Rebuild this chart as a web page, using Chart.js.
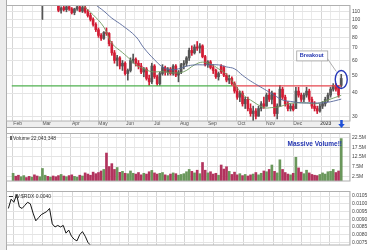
<!DOCTYPE html>
<html><head><meta charset="utf-8">
<script src="https://cdn.jsdelivr.net/npm/chart.js@4"></script>
<style>
html,body{margin:0;padding:0;background:#fff;width:370px;height:250px;overflow:hidden;}
canvas{position:absolute;left:0;}
#edge{position:absolute;left:0;top:0;width:7px;height:250px;background:#ececec;border-right:1px solid #a9a9a9;box-sizing:border-box;}
</style></head><body>
<div id="edge"></div>
<canvas id="c1" style="top:0" width="370" height="128"></canvas>
<canvas id="c2" style="top:128px" width="370" height="58"></canvas>
<canvas id="c3" style="top:186px" width="370" height="64"></canvas>
<script>
// ---- data (bar index = 2 trading days, late Jan 2022 -> mid Jan 2023) ----
const monthLabels = ['Feb','Mar','Apr','May','Jun','Jul','Aug','Sep','Oct','Nov','Dec','2023'];
const monthTicks  = [1.7,12.6,23.5,33.7,43.8,54,64.2,74.7,85.6,96.5,106.7,117.2];

const opens = [128,130,128,126,129,133,130,127,129,126,124,121,123,126,124,125,122,
 119,112,116,113,117,114,109,114,117,111,116,
 110,105,100,94,88,82,79,85,
 84,74,66,60,62,56,58,51,
 53,60,61,58,56,52,54,48,
 46,56,49,45,51,55,52,54,
 51,56,50,52,
 57,58,62,68,66,71,70,
 72,63,57,59,55,53,49,
 56,55,50,47,48,
 45,41,38,40,35,37,33,31,32,
 30,33,35,34,39,37,40,31,
 34,42,38,35,33,34,
 33,41,39,37,39,41,37,34,
 33,32,34,35,37,39,42,44,43,44];
const highs = [132,134,131,130,135,136,133,131,132,129,127,126,128,130,127,128,124,
 121,117,119,118,121,116,115,120,119,118,118,
 113,108,102,96,90,84,86,90,
 85,76,68,64,63,60,59,54,
 62,65,62,60,58,55,55,50,
 58,57,50,52,57,56,55,55,
 57,57,53,58,
 60,63,70,72,73,76,74,
 73,64,60,60,57,54,52,
 57,56,51,50,49,
 46,43,41,41,38,38,35,34,33,
 34,36,38,40,42,41,40,35,
 44,43,39,36,35,35,
 43,43,40,40,43,42,38,36,
 34,35,36,38,40,43,45,45,44,50.5];
const lows = [125,127,124,123,127,129,126,124,125,122,121,100,121,123,121,121,119,
 110,108,111,110,112,107,106,112,110,109,108,
 103,98,92,86,80,77,78,82,
 72,64,58,56,54,53,50,47,
 52,58,56,54,51,49,47,44,
 45,48,44,44,50,50,50,50,
 50,49,46,51,
 54,56,60,64,65,68,66,
 62,56,55,54,51,48,47,
 51,49,46,45,44,
 40,37,36,34,33,32,30,28,29,
 30,32,33,34,36,35,30,29,
 34,37,34,32,32,32,
 33,38,36,36,38,36,33,32,
 31,31.5,33,34,36,38,41,41,38,43];
const closes = [130,128,126,129,133,130,127,129,126,124,125,123,126,124,125,122,120,
 112,115,113,117,114,109,114,117,111,116,110,
 105,100,94,88,82,79,85,84,
 74,66,60,62,56,58,51,53,
 60,61,58,56,52,54,48,46,
 56,49,45,51,55,52,54,51,
 56,50,52,57,
 58,62,68,66,71,70,72,
 63,57,59,55,53,49,51,
 52,50,47,48,45,
 41,38,40,35,37,33,31,32,30,
 33,35,34,39,37,40,31,34,
 42,38,35,33,34,32.5,
 41,39,37,39,41,37,34,33,
 32,34,35,37,39,42,44,42,39,48];
// volume in millions
const volumes = [4.0,2.5,3.0,2.2,2.8,1.8,2.4,2.0,3.2,2.6,2.2,
 6.5,
 3.0,2.4,2.0,2.6,2.2,2.8,3.4,2.6,2.2,
 2.8,3.2,2.4,2.0,3.0,2.6,4.2,3.6,3.0,4.6,3.8,4.4,5.2,
 6.0,14.5,7.5,9.0,6.0,7.0,4.5,5.0,4.0,3.8,5.2,4.0,3.6,4.4,3.2,4.0,3.6,4.8,5.5,4.2,3.6,4.0,4.4,3.2,2.8,3.6,4.2,3.8,3.0,3.4,
 3.8,4.8,6.0,5.0,4.2,5.6,3.8,9.6,5.6,4.2,4.8,3.6,4.0,3.0,8.3,6.2,7.4,5.0,3.4,4.6,
 3.2,3.8,2.8,3.4,2.6,3.2,3.6,4.4,3.2,4.0,5.2,4.8,6.0,8.3,5.0,4.2,11.0,6.0,4.4,3.6,
 3.2,4.0,12.3,6.8,4.6,3.8,5.6,4.2,3.4,3.0,2.8,3.4,4.2,3.6,4.8,5.0,6.0,4.4,5.2,22.0];
const slowMaIdx = [29,31,34,37,41,46,49,53,56,59,62,65,68,72,77,80,83,86,89,92,95,98,101,105,108,112,116,119,123];
const slowMa    = [126,119.7,111,101.7,92.7,80.8,70.2,60.6,55.4,53.5,54.1,55.9,56.8,56.8,56.8,55.4,54.1,49.9,46.5,43.8,41.3,38.9,36.7,35.9,35.4,35.4,35.4,35.9,37.1];
const fastMaIdx = [25,26,30,34,37,41,44,46,49,52,56,60,64,68,71,74,77,80,84,86,89,94,97,100,103,106,110,113,115,118,121,123];
const fastMa    = [124,119.7,106,91,74.4,66.2,60.6,56.8,54.1,52.2,52.2,51.4,52.2,56.8,58.8,57.4,54.1,50.5,42.8,39.4,36.7,33.4,33.4,33.8,35.0,35.4,35.4,35.0,35.4,36.7,38.0,38.9];
const supportLevel = 43.8;
const levelSplitIdx = 82;
const relStrength = [0.0097,0.0103,0.0101,0.0106,0.0098,0.0097,0.0099,0.0101,0.0100,0.0094,0.0089,0.0091,0.0093,0.0094,0.0095,0.0097,
 0.0087,0.0085,0.0086,0.0085,0.0086,0.0081,0.0083,0.0079,0.0077,0.0076,0.0080,0.0082,0.0079,0.0075,0.0073,0.0071];
const priceTicks = [30,40,50,60,70,80,90,100,110];
const volTicks = [2.5,5,7.5,10,12.5,15,17.5,20,22.5];
const relTicks = [0.0075,0.0080,0.0085,0.0090,0.0095,0.0100,0.0105];
const volumeTitle = 'Volume 22,043,348';
const relTitle = 'W:$RDX 0.0040';
const breakoutIdx = 123, breakoutPrice = 47.4;

// ---- chart setup ----
const F = "'Liberation Sans', Arial, sans-serif";
const N = opens.length;
const idx = [...Array(N).keys()];
const isUp = i => closes[i] >= opens[i];
const candleColor = idx.map(i => isUp(i) ? '#555555' : '#d21c34');
const volColor = idx.map(i => isUp(i) ? '#6a975b' : '#b2335d');
const X_MIN = -0.5, X_MAX = 124.5;

function gridTicks(){
  const t = [{value: monthTicks[0] - 3.6}];
  for (let i = 0; i < monthTicks.length; i++){
    t.push({value: monthTicks[i]});
    const next = i + 1 < monthTicks.length ? monthTicks[i+1] : monthTicks[i] + 10.5;
    const step = (next - monthTicks[i]) / 3;
    for (let k = 1; k < 3; k++) t.push({value: monthTicks[i] + k*step});
  }
  return t.filter(o => o.value > X_MIN && o.value < X_MAX);
}
function xAxis(showLabels){
  return {
    type:'linear', min:X_MIN, max:X_MAX, position:'bottom',
    afterBuildTicks: s => { s.ticks = gridTicks(); },
    afterFit: s => { s.height = showLabels ? 7 : 0; },
    border:{display:false},
    grid:{drawTicks:false, lineWidth:1,
      color: c => (c.tick && monthTicks.includes(c.tick.value)) ? '#d6d6d6' : '#eaeaea'},
    ticks:{display:showLabels, autoSkip:false, maxRotation:0, padding:0, color:'#555',
      font: c => ({family:F, size:5, weight:(c.tick && c.tick.value === monthTicks[monthTicks.length-1]) ? 'bold' : 'normal'}),
      callback: v => { const k = monthTicks.indexOf(v); return k >= 0 ? monthLabels[k] : ''; }}
  };
}
function yAxis(type, min, max, tickVals, fmt){
  return {type, position:'right', min, max,
    afterBuildTicks: s => { s.ticks = tickVals.map(v => ({value:v})); },
    afterFit: s => { s.width = 20; },
    border:{display:false},
    grid:{drawTicks:false, color:'#e4e4e4'},
    ticks:{padding:2, color:'#444', font:{family:F, size:5}, callback: v => fmt(v)}};
}
const base = {responsive:false, animation:false, devicePixelRatio:1,
  layout:{padding:{left:7, right:0, top:0, bottom:0}},
  plugins:{legend:{display:false}, tooltip:{enabled:false}}};

const frame = {id:'frame', afterDatasetsDraw(ch){
  const a = ch.chartArea, c = ch.ctx;
  c.save(); c.strokeStyle = '#b0b0b0'; c.lineWidth = 1;
  c.strokeRect(a.left - 0.5, a.top + 0.5, a.right - a.left + 0.5, a.bottom - a.top - 0.5);
  c.restore();
}};

// price chart
const pricePlugin = {id:'priceExtras',
  beforeDraw(ch){
    const xs = ch.scales.x, c = ch.ctx;
    c.save(); c.fillStyle = '#eeeeee';
    c.fillRect(xs.left, xs.top, xs.right - xs.left, xs.bottom - xs.top);
    c.strokeStyle = '#a8a8a8'; c.beginPath();
    c.moveTo(xs.left, xs.bottom - 0.5); c.lineTo(xs.right, xs.bottom - 0.5); c.stroke();
    c.restore();
  },
  afterDraw(ch){
    const xs = ch.scales.x, ys = ch.scales.y, c = ch.ctx;
    const cx = xs.getPixelForValue(breakoutIdx), cy = ys.getPixelForValue(breakoutPrice);
    c.save();
    // ellipse
    c.strokeStyle = '#2536b8'; c.lineWidth = 1.4;
    c.beginPath(); c.ellipse(cx, cy, 6, 9, 0, 0, Math.PI*2); c.stroke();
    // callout
    const bx = cx - 45, by = cy - 29, bw = 31, bh = 10;
    c.strokeStyle = '#9a9a9a'; c.lineWidth = 0.8;
    c.beginPath(); c.moveTo(bx + bw, by + bh - 2); c.lineTo(cx - 5, cy - 8); c.stroke();
    c.fillStyle = '#ffffff'; c.fillRect(bx, by, bw, bh);
    c.strokeStyle = '#a0a0a0'; c.strokeRect(bx + 0.5, by + 0.5, bw, bh);
    c.fillStyle = '#2234b0'; c.font = 'bold 5.5px ' + F; c.textAlign = 'center'; c.textBaseline = 'middle';
    c.fillText('Breakout', bx + bw/2, by + bh/2 + 0.5);
    // latest-bar arrow
    c.fillStyle = '#1e50d8';
    c.fillRect(cx - 1, xs.top - 1, 2.5, 4);
    c.beginPath(); c.moveTo(cx - 3, xs.top + 3); c.lineTo(cx + 3.5, xs.top + 3); c.lineTo(cx + 0.25, xs.top + 7); c.closePath(); c.fill();
    c.restore();
  }};
new Chart(document.getElementById('c1'), {
  type:'bar',
  data:{datasets:[
    {type:'line', data:[{x:X_MIN, y:supportLevel},{x:levelSplitIdx, y:supportLevel}], borderColor:'#4fb04f', borderWidth:1.3, pointRadius:0, order:1, clip:0},
    {type:'line', data:[{x:levelSplitIdx, y:supportLevel},{x:breakoutIdx, y:supportLevel}], borderColor:'#e4464e', borderWidth:1.3, pointRadius:0, order:1, clip:0},
    {type:'line', data:slowMaIdx.map((x,k) => ({x, y:slowMa[k]})), borderColor:'#56669a', borderWidth:0.9, pointRadius:0, tension:0.4, order:0, clip:0},
    {type:'line', data:fastMaIdx.map((x,k) => ({x, y:fastMa[k]})), borderColor:'#6f9a5e', borderWidth:0.9, pointRadius:0, tension:0.4, order:0, clip:0},
    {type:'bar', data:idx.map(i => ({x:i, y:[lows[i], highs[i]]})), backgroundColor:candleColor, barThickness:1, grouped:false, order:3, clip:0},
    {type:'bar', data:idx.map(i => ({x:i, y:[opens[i], closes[i]]})), backgroundColor:candleColor, barThickness:2, grouped:false, order:2, clip:0}
  ]},
  options:Object.assign({}, base, {scales:{
    x: xAxis(true),
    y: yAxis('logarithmic', 28.26, 119.7, priceTicks, v => String(v))
  }}),
  plugins:[pricePlugin, frame]
});

// volume chart
const volPlugin = {id:'volExtras', afterDraw(ch){
  const a = ch.chartArea, c = ch.ctx;
  c.save();
  c.fillStyle = '#666'; c.fillRect(a.left + 3, a.top + 3, 2, 4);
  c.fillStyle = '#333'; c.font = '5px ' + F; c.textBaseline = 'middle'; c.textAlign = 'left';
  c.fillText(volumeTitle, a.left + 6, a.top + 5.5);
  c.fillStyle = '#2234b0'; c.font = 'bold 6.5px ' + F; c.textAlign = 'right';
  c.fillText('Massive Volume!!', a.right - 8, a.top + 11);
  c.restore();
}};
new Chart(document.getElementById('c2'), {
  type:'bar',
  data:{datasets:[{data:idx.map(i => ({x:i, y:volumes[i]})), backgroundColor:volColor, barThickness:2, clip:0}]},
  options:Object.assign({}, base, {layout:{padding:{left:7, right:0, top:0, bottom:2}}, scales:{
    x: xAxis(false),
    y: yAxis('linear', 0, 24.9, volTicks, v => v.toFixed(1) + 'M')
  }}),
  plugins:[volPlugin, frame]
});

// relative strength chart
const relPlugin = {id:'relExtras', afterDraw(ch){
  const a = ch.chartArea, c = ch.ctx;
  c.save();
  c.strokeStyle = '#333'; c.lineWidth = 1;
  c.beginPath(); c.moveTo(a.left + 2, a.top + 5.5); c.lineTo(a.left + 6, a.top + 5.5); c.stroke();
  c.fillStyle = '#333'; c.font = '5px ' + F; c.textBaseline = 'middle';
  c.fillText(relTitle, a.left + 8, a.top + 5.5);
  c.restore();
}};
new Chart(document.getElementById('c3'), {
  type:'line',
  data:{datasets:[{data:relStrength.map((v,i) => ({x:i, y:v})), borderColor:'#151515', borderWidth:1, pointRadius:0, tension:0, clip:0}]},
  options:Object.assign({}, base, {layout:{padding:{left:7, right:0, top:1, bottom:0}}, scales:{
    x: xAxis(false),
    y: yAxis('linear', 0.007333, 0.01083, relTicks, v => v.toFixed(4))
  }}),
  plugins:[relPlugin, frame]
});
</script>
</body></html>
